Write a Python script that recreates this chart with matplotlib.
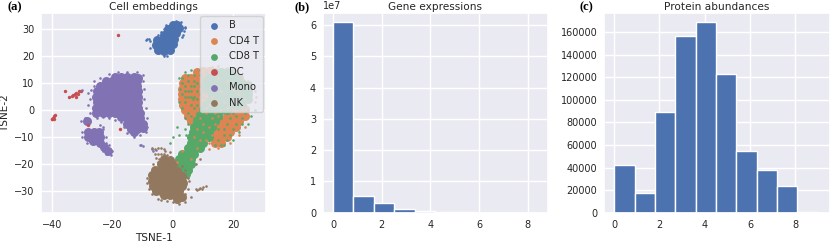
import matplotlib
matplotlib.use("Agg")
import matplotlib.pyplot as plt
import seaborn as sns

sns.set_theme(style="darkgrid")

# ---------------------------------------------------------
# DATA
# ---------------------------------------------------------

cell_types = ["B", "CD4 T", "CD8 T", "DC", "Mono", "NK"]
cell_colors = ["#4c72b0", "#dd8452", "#55a868", "#c44e52", "#8172b3", "#937860"]

b_core = [(-5, 22.5), (-3, 22), (-1, 22.5),
          (-5.5, 24), (-4, 24), (-2, 24), (0, 24.5),
          (-5.3, 26), (-3.5, 26), (-1.5, 26), (0.5, 26.5),
          (-3, 28), (-1, 28), (1, 28.5),
          (-1.5, 30), (0.5, 30), (2, 30.5),
          (0, 31.5), (1.5, 31.5)]
b_edge = [(-9, 26), (-8.5, 26.3), (-8, 26.5), (-7.5, 25.8), (3.8, 29.5), (4, 30.5), (3.5, 28),
          (3, 27), (-7.5, 23), (-3, 20.2), (-2, 20), (-5, 28), (-4, 29), (-3, 30), (-2.2, 31.5),
          (2.8, 32.5), (1, 33), (4, 31)]

cd4_core = [(8, 14), (10, 14.5), (12, 14.5),
            (4, 12), (6, 12), (8, 12), (10, 12),
            (3.5, 10), (5.5, 10), (7.5, 10), (9.5, 10),
            (3, 8), (5, 8), (7, 8), (9, 8),
            (3, 6), (5, 6), (7, 6), (9, 6), (11, 6),
            (3, 4), (5, 4), (7, 4), (9, 4), (11, 4),
            (3.5, 2), (5, 2), (7, 2), (9, 2),
            (4, 0), (6, 0), (8, 0), (20, 0), (22, 0), (24, 0.5),
            (5, -2), (7, -2), (18, -2), (20, -2), (22, -2), (24, -2),
            (6, -4), (16, -4), (18, -4), (20, -4), (22, -4),
            (15, -6), (17, -6), (19, -6), (21, -6),
            (15, -8), (17, -8), (19, -8),
            (14, -10), (16, -10), (18, -10),
            (14, -12), (16, -12)]
cd4_edge = [(14, 2), (17, 3), (13, 8), (15, 12), (13, 16), (15, 16.5), (18, 15.5), (21, 14),
            (23, 12), (25, 11), (26, 9), (27, 7), (27.5, 5), (27, 3), (12, -14.5), (15, -14),
            (19, -12), (22, -9), (24, -6), (11, -1), (12, 2), (9, -3), (10, -8), (11, -11),
            (16, 0), (18, 1), (13, -3), (15, -2), (3, -15), (1.5, -19), (8, -14), (6, -18),
            (12, -6), (13, -9), (9, -11), (12, -12), (14, -5), (10, -5), (8, -7), (7, -10),
            (14, -1), (11, 1), (15, 3), (19, 2), (21, 3), (23, 1), (13, 5), (16, 7), (20, 8),
            (18, 11), (14, 13), (22, 6), (24, 4)]

cd8_core = [(14, 14), (16, 14), (18, 14), (20, 14),
            (12, 12), (14, 12), (16, 12), (18, 12), (20, 12), (22, 12),
            (11, 10), (13, 10), (15, 10), (17, 10), (19, 10), (21, 10), (23, 10), (25, 9.5),
            (11, 8), (13, 8), (15, 8), (17, 8), (19, 8), (21, 8), (23, 8), (25, 7.5),
            (13, 6), (15, 6), (17, 6), (19, 6), (21, 6), (23, 6), (25, 6),
            (13, 4), (15, 4), (17, 4), (19, 4), (21, 4), (23, 4), (25, 4),
            (11, 2), (13, 2), (15, 2), (17, 2), (19, 2), (21, 2), (23, 2),
            (10, 0), (12, 0), (14, 0), (16, 0), (18, 0),
            (9, -2), (11, -2), (13, -2), (15, -2),
            (8, -4), (10, -4), (12, -4), (14, -4),
            (7, -6), (9, -6), (11, -6), (13, -6),
            (6.5, -8), (8, -8), (10, -8), (12, -8),
            (6, -10), (8, -10), (10, -10), (12, -10),
            (6, -12), (8, -12), (10, -12),
            (5, -14), (7, -14), (9, -14),
            (3, -16), (5, -16), (7, -16),
            (2, -18), (4, -18), (6, -18),
            (2.5, -20), (4.5, -20), (6, -20),
            (3.5, -22), (5, -22), (4.5, -23.5)]
cd8_edge = [(2, 12), (4, 14), (6, 15), (2.5, 8), (4, 7), (6, 9), (8, 7), (5, 11), (7, 13), (9, 15),
            (4, 3), (6, 2), (8, 4), (10, 5), (5, 5), (7, 1), (3, 1), (9, 1), (5, -1), (7, -3),
            (5, -5), (4, -7), (4.5, -9), (16, -3), (18, -5), (20, -1), (22, 0), (24, -1), (17, -7),
            (19, -9), (15, -11), (21, -5), (23, -3), (25, 0), (26, -2), (22, -8), (20, -11),
            (1.5, -6), (2, -9), (0, -10), (25, -5), (27, 0), (2, 3), (8, 10), (10, 12), (6, 7),
            (3, 10), (9, 6), (11, 4), (4, 9), (-1, -12), (14, -13), (17, -13), (6.5, 4), (8, -1),
            (5, 13), (7, 11), (9, 13), (11, 14), (3, 12), (4, 5), (6, 5), (8, 2), (10, 3), (3, 6),
            (7, 9), (5, 7), (9, 9), (7, 5), (6, -2), (4, -3), (6, -6), (19, -3), (21, -2), (23, -5),
            (17, -9), (15, -7), (18, -11), (16, -13), (20, -7)]

dc_points = [(-34.5, 5), (-33.5, 5.2), (-33, 5.8), (-32.5, 6), (-32, 6.5), (-31.5, 6.2), (-31, 7),
             (-30.5, 7), (-32, 5), (-35.5, 7), (-39.8, -3.2), (-39.5, -2.8), (-39.2, -2), (-40, -3.4),
             (-39, -1.6), (-39.2, -3.3), (-17.5, -7), (-18, 27.8), (-28.2, -5.5)]

mono_core = [(-19, 12.5), (-17, 12.5), (-15, 12.5), (-13, 12.5), (-11.5, 12),
             (-22, 11), (-20, 11), (-18, 11), (-16, 11), (-14, 11), (-12, 11),
             (-24, 9), (-22, 9), (-20, 9), (-18, 9), (-16, 9), (-14, 9), (-12, 9),
             (-25, 7), (-23, 7), (-21, 7), (-19, 7), (-17, 7), (-15, 7), (-13, 7), (-11.5, 7),
             (-25.5, 5), (-23, 5), (-21, 5), (-19, 5), (-17, 5), (-15, 5), (-13, 5), (-11.5, 5),
             (-25, 3), (-23, 3), (-21, 3), (-19, 3), (-17, 3), (-15, 3), (-13, 3), (-11.5, 3),
             (-25.5, 1), (-23, 1), (-21, 1), (-19, 1), (-17, 1), (-15, 1), (-13, 1), (-11.5, 1),
             (-25.5, -1), (-23, -1), (-21, -1), (-19, -1), (-17, -1), (-15, -1), (-13, -1), (-11, -1),
             (-17, -2.5), (-15, -3), (-13, -3), (-11, -3),
             (-15, -5), (-13, -5), (-11, -5), (-10, -5),
             (-14, -7), (-12, -7), (-10, -6.5),
             (-13, -8.2), (-28.5, -4),
             (-28, -8), (-26, -8), (-24.5, -8),
             (-28, -10), (-26, -10), (-24, -10),
             (-26.5, -11.5), (-24, -12), (-22.8, -13.5), (-21.5, -15)]
mono_edge = [(-30, 7.5), (-28, 6.5), (-27, 7.5), (-26, 9), (-26, 11), (-24, 12), (-21, 13.5), (-18, 14),
             (-15, 14.2), (-12, 14), (-10, 13), (-9.8, 11), (-9.5, 8), (-9.5, 4), (-9, 1), (-8.5, -3),
             (-8.5, -6), (-9, -8), (-11, -9), (-13, -9.8), (-15, -8.5), (-16, -6), (-17, -4.5),
             (-19, -3.5), (-21, -2.8), (-23, -2.5), (-25, -3), (-27.5, -1), (-28, 2), (-27.5, 4),
             (-24, -5.5), (-30, -8), (-30, -10), (-28.5, -12), (-23, -6), (-23, -7), (-22, -10),
             (-22, -12), (-21, -13), (-20, -15), (-20.5, -16.5), (-22, -16), (-23, -15), (-30.5, -4),
             (-29, -3), (-11, -12.7), (-10.5, -13), (-10, -13.3), (-7, -14.5), (-6.5, -15), (-5.5, -14.7)]

nk_core = [(-3, -18), (-1, -18.5),
           (-4, -20), (-2, -20), (0, -20),
           (-6, -22), (-4, -22), (-2, -22), (0, -22), (1.5, -22.5),
           (-7, -24), (-5, -24), (-3, -24), (-1, -24), (1, -24), (3, -24.5),
           (-7, -26), (-5, -26), (-3, -26), (-1, -26), (1, -26), (3, -26),
           (-6.5, -28), (-5, -28), (-3, -28), (-1, -28), (1, -28), (3, -28), (3.5, -27),
           (-5.5, -30), (-4, -30), (-2, -30), (0, -30), (2, -30),
           (-3, -31.5), (-1, -31.5), (1, -31.5), (3, -32), (1.5, -33)]
nk_edge = [(-7, -14), (-6, -14.5), (-5, -14), (-4, -14), (-3, -14.5), (-2.5, -15), (-6, -16), (-5, -16),
           (-4, -16), (-3, -16), (-2, -16.5), (-5.5, -17.5), (-4.5, -18), (-5, -19), (-6.5, -20),
           (-8.5, -25), (-8.7, -27), (-8, -29), (-7, -31), (-5, -33), (-4, -33.2), (-2, -33.5),
           (0, -34), (2, -34.5), (4, -34), (4, -31), (5, -29), (5, -25), (4, -22), (3, -20.5),
           (7.5, -29), (8, -29.5), (8.5, -29), (9, -28.8), (9.5, -29.2), (10, -28.5), (11, -28),
           (6, -32), (5.5, -26), (-1, -15.5), (7.5, -20), (9, -18)]

gene_edges = [0.0, 0.84, 1.68, 2.52, 3.36, 4.2, 5.04, 5.88, 6.72, 7.56, 8.4]
gene_counts = [6.09e7, 5.4e6, 3.0e6, 1.15e6, 6.5e5, 2.5e5, 1.0e5, 3.0e4, 1.0e4, 3.0e3]

protein_edges = [0.0, 0.9, 1.8, 2.7, 3.6, 4.5, 5.4, 6.3, 7.2, 8.1, 9.0]
protein_counts = [42000, 17500, 89500, 157000, 169000, 123000, 54500, 37500, 24000, 500]

# ---------------------------------------------------------
# LAYOUT
# ---------------------------------------------------------

W, H = 830, 243
TICK_SIZE = 7
LABEL_SIZE = 7.6


def make_axes(x0, x1, y0, y1):
    ax = fig.add_axes([x0 / W, 1 - y1 / H, (x1 - x0) / W, (y1 - y0) / H])
    ax.tick_params(axis="x", labelsize=TICK_SIZE, length=0, pad=5.5)
    ax.tick_params(axis="y", labelsize=TICK_SIZE, length=0, pad=5)
    return ax


def bars(ax, edges, counts):
    ax.hist(edges[:-1], bins=edges, weights=counts, color=cell_colors[0])


fig = plt.figure(figsize=(W / 100, H / 100), dpi=100)

# ---------------------------------------------------------
# (a) EMBEDDING
# ---------------------------------------------------------

ax1 = make_axes(41.3, 266, 13.3, 212.7)
cores = [b_core, cd4_core, cd8_core, [], mono_core, nk_core]
edges = [b_edge, cd4_edge, cd8_edge, dc_points, mono_edge, nk_edge]

for name, color, core, edge in zip(cell_types, cell_colors, cores, edges):
    if core:
        ax1.scatter([p[0] for p in core], [p[1] for p in core], s=42, color=color,
                    linewidths=0, label=name)
        ax1.scatter([p[0] for p in edge], [p[1] for p in edge], s=3.5, color=color,
                    linewidths=0, zorder=3)
    else:
        ax1.scatter([p[0] for p in edge], [p[1] for p in edge], s=6, color=color,
                    linewidths=0, zorder=3, label=name)

ax1.set_xlim(-43.5, 30.8)
ax1.set_ylim(-37.9, 35.9)
ax1.set_xticks([-40, -20, 0, 20])
ax1.set_yticks([-30, -20, -10, 0, 10, 20, 30])
ax1.set_xlabel("TSNE-1", fontsize=LABEL_SIZE, labelpad=2)
ax1.set_ylabel("TSNE-2", fontsize=LABEL_SIZE, labelpad=2.5)
ax1.set_title("Cell embeddings", fontsize=LABEL_SIZE, pad=2.5)
leg = ax1.legend(loc="upper right", fontsize=7.2, framealpha=0.8, borderaxespad=0.3,
                 labelspacing=0.55, handletextpad=0.5)
leg.set_zorder(5)
for h in leg.legend_handles:
    h.set_sizes([24])

# ---------------------------------------------------------
# (b) GENE EXPRESSIONS
# ---------------------------------------------------------

ax2 = make_axes(323, 548, 13.3, 212.7)
bars(ax2, gene_edges, gene_counts)
ax2.set_xlim(-0.41, 8.83)
ax2.set_ylim(0, 6.38e7)
ax2.set_xticks([0, 2, 4, 6, 8])
ax2.set_yticks([0, 1e7, 2e7, 3e7, 4e7, 5e7, 6e7])
ax2.yaxis.get_offset_text().set_fontsize(TICK_SIZE)
ax2.set_title("Gene expressions", fontsize=LABEL_SIZE, pad=2.5)

# ---------------------------------------------------------
# (c) PROTEIN ABUNDANCES
# ---------------------------------------------------------

ax3 = make_axes(604.3, 830, 13.3, 212.7)
bars(ax3, protein_edges, protein_counts)
ax3.set_xlim(-0.44, 9.54)
ax3.set_ylim(0, 176850)
ax3.set_xticks([0, 2, 4, 6, 8])
ax3.set_yticks([0, 20000, 40000, 60000, 80000, 100000, 120000, 140000, 160000])
ax3.set_title("Protein abundances", fontsize=LABEL_SIZE, pad=2.5)

# panel letters
for label, x in zip(["(a)", "(b)", "(c)"], [7, 294, 579]):
    fig.text(x / W, 1 - 7 / H, label, family="Liberation Serif", weight="bold",
             fontsize=9, va="center", ha="left", color="black")

fig.savefig("out.png", dpi=100)
